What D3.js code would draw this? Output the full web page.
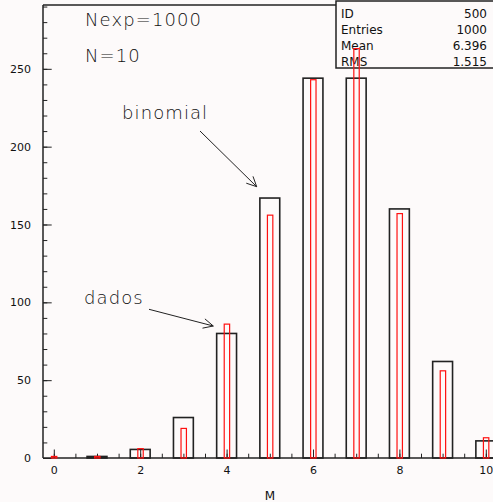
<!DOCTYPE html>
<html>
<head>
<meta charset="utf-8">
<script src="https://cdn.jsdelivr.net/npm/d3@7"></script>
<style>
    body { margin: 0; background: #fdfafa; }
    svg { display: block; }
    .tick text { font-family: "DejaVu Sans", sans-serif; font-size: 11px; fill: #111; }
    .lbl { font-family: "DejaVu Sans", sans-serif; font-weight: 200; fill: #111; letter-spacing: 1.1px; }
    .stat { font-family: "DejaVu Sans", sans-serif; font-size: 12px; fill: #111; }
</style>
</head>
<body>
<div id="chart"></div>
<script>
const categories = [0, 1, 2, 3, 4, 5, 6, 7, 8, 9, 10];
const binomial = [0, 1, 5.5, 26, 80, 167, 244, 244, 160, 62, 11];
const dados = [1, 1, 6, 19, 86, 156, 243, 263, 157, 56, 13];
const yTicks = [0, 50, 100, 150, 200, 250];
const xTicks = [0, 2, 4, 6, 8, 10];
const statNames = ['ID', 'Entries', 'Mean', 'RMS'];
const statValues = ['500', '1000', '6.396', '1.515'];

let width = 493, height = 502;

let xScale = d3.scaleLinear()
    .domain([-0.25, 10.25])
    .range([43, 496.6]);

let yScale = d3.scaleLinear()
    .domain([0, 291])
    .range([458, 5]);

let svg = d3.select('#chart')
    .append('svg')
    .attr('width', width)
    .attr('height', height);

// frame top
svg.append('line')
    .attr('x1', 43).attr('x2', width)
    .attr('y1', 5).attr('y2', 5)
    .attr('stroke', '#222').attr('stroke-width', 1.5);

// binomial bars (black)
svg.selectAll('.bin')
    .data(categories)
    .enter()
    .append('rect')
    .attr('class', 'bin')
    .attr('x', d => xScale(d - 0.23))
    .attr('width', d => xScale(d + 0.23) - xScale(d - 0.23))
    .attr('y', (d, i) => yScale(binomial[i]))
    .attr('height', (d, i) => yScale(0) - yScale(binomial[i]))
    .attr('fill', 'none')
    .attr('stroke', '#222')
    .attr('stroke-width', 1.6);

// y axis
svg.append('g')
    .attr('transform', 'translate(43,0)')
    .call(d3.axisLeft(yScale).tickValues(d3.range(0, 291, 10)).tickSize(-4.3).tickSizeOuter(0).tickFormat(''))
    .call(g => g.select('.domain').remove())
    .call(g => g.selectAll('line').attr('stroke', '#222'));

svg.append('g')
    .attr('transform', 'translate(43,0)')
    .call(d3.axisLeft(yScale).tickValues(yTicks).tickSize(-8.7).tickSizeOuter(0).tickPadding(12))
    .call(g => g.select('.domain').attr('d', `M0,${yScale(0)}V5`).attr('stroke', '#222').attr('stroke-width', 1.5))
    .call(g => g.selectAll('line').attr('stroke', '#222'))
    .call(g => g.selectAll('text').attr('font-family', null).attr('font-size', null));

// x axis
svg.append('g')
    .attr('transform', `translate(0,${yScale(0)})`)
    .call(d3.axisBottom(xScale).tickValues(d3.range(0, 10.3, 0.5)).tickSize(-4.3).tickSizeOuter(0).tickFormat(''))
    .call(g => g.select('.domain').remove())
    .call(g => g.selectAll('line').attr('stroke', '#222'));

svg.append('g')
    .attr('transform', `translate(0,${yScale(0)})`)
    .call(d3.axisBottom(xScale).tickValues(xTicks).tickSize(-8.5).tickSizeOuter(0).tickPadding(8))
    .call(g => g.select('.domain').attr('d', `M43,0H${width}`).attr('stroke', '#222').attr('stroke-width', 1.5))
    .call(g => g.selectAll('line').attr('stroke', '#222'))
    .call(g => g.selectAll('text').attr('font-family', null).attr('font-size', null));

svg.append('text')
    .attr('class', 'stat')
    .attr('x', 270).attr('y', 500)
    .attr('text-anchor', 'middle')
    .attr('font-size', 10)
    .text('M');

// stats box
svg.append('rect')
    .attr('x', 336).attr('y', 1)
    .attr('width', 170).attr('height', 67)
    .attr('fill', '#fdfafa')
    .attr('stroke', '#222')
    .attr('stroke-width', 1.5);

statNames.forEach((s, i) => {
    svg.append('text').attr('class', 'stat')
        .attr('x', 341).attr('y', 18 + i * 16)
        .text(s);
    svg.append('text').attr('class', 'stat')
        .attr('x', 487).attr('y', 18 + i * 16)
        .attr('text-anchor', 'end')
        .text(statValues[i]);
});

// dados bars (red)
svg.selectAll('.dad')
    .data(categories)
    .enter()
    .append('rect')
    .attr('class', 'dad')
    .attr('x', d => xScale(d - 0.055))
    .attr('width', d => xScale(d + 0.07) - xScale(d - 0.055))
    .attr('y', (d, i) => yScale(dados[i]))
    .attr('height', (d, i) => yScale(0) - yScale(dados[i]))
    .attr('fill', 'none')
    .attr('stroke', '#ff1010')
    .attr('stroke-width', 1.2);

// labels
svg.append('text').attr('class', 'lbl')
    .attr('x', 85).attr('y', 26)
    .attr('font-size', 18)
    .text('Nexp=1000');

svg.append('text').attr('class', 'lbl')
    .attr('x', 85).attr('y', 62)
    .attr('font-size', 18)
    .text('N=10');

svg.append('text').attr('class', 'lbl')
    .attr('x', 122).attr('y', 119)
    .attr('font-size', 18)
    .text('binomial');

svg.append('text').attr('class', 'lbl')
    .attr('x', 84).attr('y', 304)
    .attr('font-size', 18)
    .text('dados');

function arrow(x1, y1, x2, y2) {
    let a = Math.atan2(y2 - y1, x2 - x1);
    let len = 11, spread = 0.45;
    svg.append('path')
        .attr('d', `M${x1},${y1}L${x2},${y2}` +
            `M${x2 - len * Math.cos(a - spread)},${y2 - len * Math.sin(a - spread)}L${x2},${y2}` +
            `L${x2 - len * Math.cos(a + spread)},${y2 - len * Math.sin(a + spread)}`)
        .attr('fill', 'none')
        .attr('stroke', '#222')
        .attr('stroke-width', 1);
}

arrow(200, 131, 256.7, 186.7);
arrow(149, 309.3, 213.3, 326);
</script>
</body>
</html>
